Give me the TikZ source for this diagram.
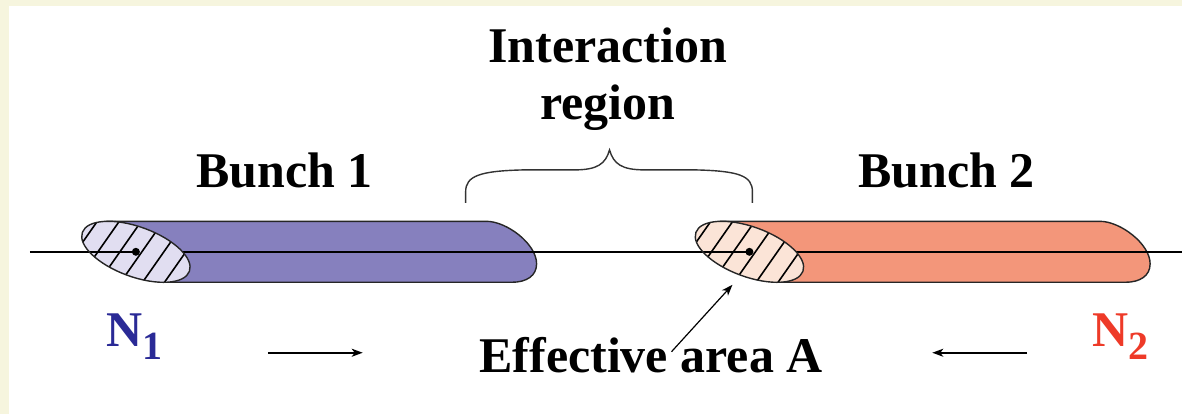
\documentclass[tikz,border=0pt]{standalone}
\usepackage{fontspec}
\setmainfont{Liberation Serif}
\usetikzlibrary{arrows.meta}

\definecolor{cream}{RGB}{246,245,222}
\definecolor{bunchA}{RGB}{134,128,190}
\definecolor{capA}{RGB}{225,222,241}
\definecolor{bunchB}{RGB}{243,150,122}
\definecolor{capB}{RGB}{251,228,215}
\definecolor{nblue}{RGB}{42,42,150}
\definecolor{nred}{RGB}{238,58,40}

\begin{document}
\begin{tikzpicture}[x=0.5pt, y=0.5pt]
\tikzset{ >={Stealth[length=5.5pt, width=4pt, inset=1.5pt]},
  label/.style={font=\fontsize{25}{28}\selectfont\bfseries, inner sep=0pt, anchor=base},
  tube/.style={draw=black!85, line width=0.7pt},
  hatch/.style={line width=0.8pt},
  arr/.style={->, line width=0.9pt},
}

% frame
\fill[cream] (0,0) rectangle (1183,414);
\fill[white] (9,0) rectangle (1183,408);

\coordinate (C1) at (136,162);
\coordinate (C2) at (750,162);
\coordinate (AL) at (30,162);
\coordinate (AR) at (1183,162);

% bunch bodies
\draw[tube, fill=bunchA] (108,192.5) -- (487,192.5)
   .. controls (507,192.5) and (537,170) .. (537,150)
   .. controls (537,138) and (527,131.5) .. (512,131.5) -- (164,131.5) -- cycle;
\draw[tube, fill=bunchB] (722,192.5) -- (1101,192.5)
   .. controls (1121,192.5) and (1151,170) .. (1151,150)
   .. controls (1151,138) and (1141,131.5) .. (1126,131.5) -- (778,131.5) -- cycle;

% beam axis
\draw[line width=0.9pt] (AL) -- (AR);

% hatched end caps
\fill[capA] (C1) circle [x radius=57, y radius=25, rotate=-20];
\begin{scope}
\clip (C1) circle [x radius=57, y radius=25, rotate=-20];
\foreach \k in {-3,...,3}
  \draw[hatch] ([xshift=\k*11pt+3pt]C1) ++(235:70) -- ++(55:140);
\draw[line width=0.9pt] (AL) -- (C1);
\end{scope}
\draw[tube] (C1) circle [x radius=57, y radius=25, rotate=-20];
\fill (C1) circle [radius=4];

\fill[capB] (C2) circle [x radius=57, y radius=25, rotate=-20];
\begin{scope}
\clip (C2) circle [x radius=57, y radius=25, rotate=-20];
\foreach \k in {-3,...,3}
  \draw[hatch] ([xshift=\k*11pt+3pt]C2) ++(235:70) -- ++(55:140);
\draw[line width=0.9pt] (AL) -- (C2);
\end{scope}
\draw[tube] (C2) circle [x radius=57, y radius=25, rotate=-20];
\fill (C2) circle [radius=4];

% brace over the gap
\draw[line width=0.7pt, black!80] (466,211) -- (466,222)
   .. controls (466,238) and (480,243) .. (525,244) -- (575,244)
   .. controls (598,244) and (606,250) .. (610,264)
   .. controls (614,250) and (622,244) .. (645,244) -- (695,244)
   .. controls (740,243) and (753,238) .. (753,222) -- (753,211);

% labels
\node[label] (inter) at (608,351) {Interaction};
\node[label] (region) at (608,294) {region};
\node[label] (b1) at (285,226) {Bunch 1};
\node[label] (b2) at (947,226) {Bunch 2};
\node[label] (eff) at (651.5,41) {Effective area A};
\node[label, anchor=base west, text=nblue] (n1) at (106,67)
   {N\raisebox{-6.5pt}{\fontsize{20}{20}\selectfont 1}};
\node[label, anchor=base west, text=nred] (n2) at (1093,67)
   {N\raisebox{-6.5pt}{\fontsize{20}{20}\selectfont 2}};

% directions of motion
\coordinate (m1s) at (268,61);
\coordinate (m1e) at (363,61);
\coordinate (m2s) at (1028,61);
\coordinate (m2e) at (933,61);
\draw[arr] (m1s) -- (m1e);
\draw[arr] (m2s) -- (m2e);

% pointer to the cap
\coordinate (effp) at (672,62);
\coordinate (capp) at (733,129);
\draw[->, line width=0.6pt] (effp) -- (capp);

\end{tikzpicture}
\end{document}
